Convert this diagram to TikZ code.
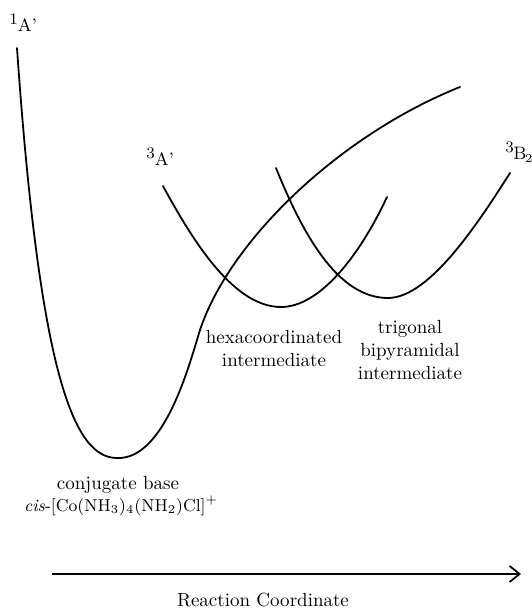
\documentclass[tikz,border=0pt]{standalone}
\usetikzlibrary{arrows.meta}
\begin{document}
\begin{tikzpicture}[x=0.5pt,y=-0.5pt,
  curve/.style={line width=0.9pt, line join=round, line cap=round},
  lbl/.style={font=\fontsize{9.5}{11.5}\selectfont, inner sep=0pt, align=center},
  state/.style={font=\fontsize{9}{10}\selectfont, inner sep=0pt, anchor=base west}]
\useasboundingbox (0,0) rectangle (531,613);
% singlet 1A' curve
\draw[curve] (17,48) .. controls (40,380) and (75,458) .. (117,458)
  .. controls (165,460) and (190,362) .. (200,330)
  .. controls (230,240) and (340,135) .. (460,87);
% triplet 3A' curve
\draw[curve] (163,186) .. controls (195,245) and (235,307) .. (281,307)
  .. controls (320,307) and (360,255) .. (387,197);
% triplet 3B2 curve
\draw[curve] (276,168) .. controls (305,240) and (340,298) .. (388,298)
  .. controls (430,298) and (480,220) .. (510,173);
% state labels
\node[state] (s1) at (9,32) {\raisebox{3.5pt}{\fontsize{8}{8}\selectfont 1}A'};
\node[state] (s3a) at (146,166) {\raisebox{3.5pt}{\fontsize{8}{8}\selectfont 3}A'};
\node[state] (s3b) at (505,160) {\raisebox{3.5pt}{\fontsize{8}{8}\selectfont 3}\kern-0.3pt B\kern-0.6pt\raisebox{-1.5pt}{\fontsize{6}{6}\selectfont 2}};
% annotations
\node[lbl] (hexa) at (274,349) {hexacoordinated\\intermediate};
\node[lbl] (tbp) at (410,350) {trigonal\\bipyramidal\\intermediate};
\node[lbl] (cb) at (118,485) {conjugate base};
\node[lbl, font=\fontsize{8.6}{10}\selectfont] (cis) at (121,506) {\textit{cis}-[Co(NH$_3$)$_4$(NH$_2$)Cl]$^+$};
% axis
\coordinate (ax0) at (52,574);
\coordinate (ax1) at (521,574);
\draw[line width=0.9pt, -{Straight Barb[length=5pt,width=8pt,line width=0.9pt]}] (ax0) -- (ax1);
\node[lbl] (rc) at (263,600) {Reaction Coordinate};
\end{tikzpicture}
\end{document}
